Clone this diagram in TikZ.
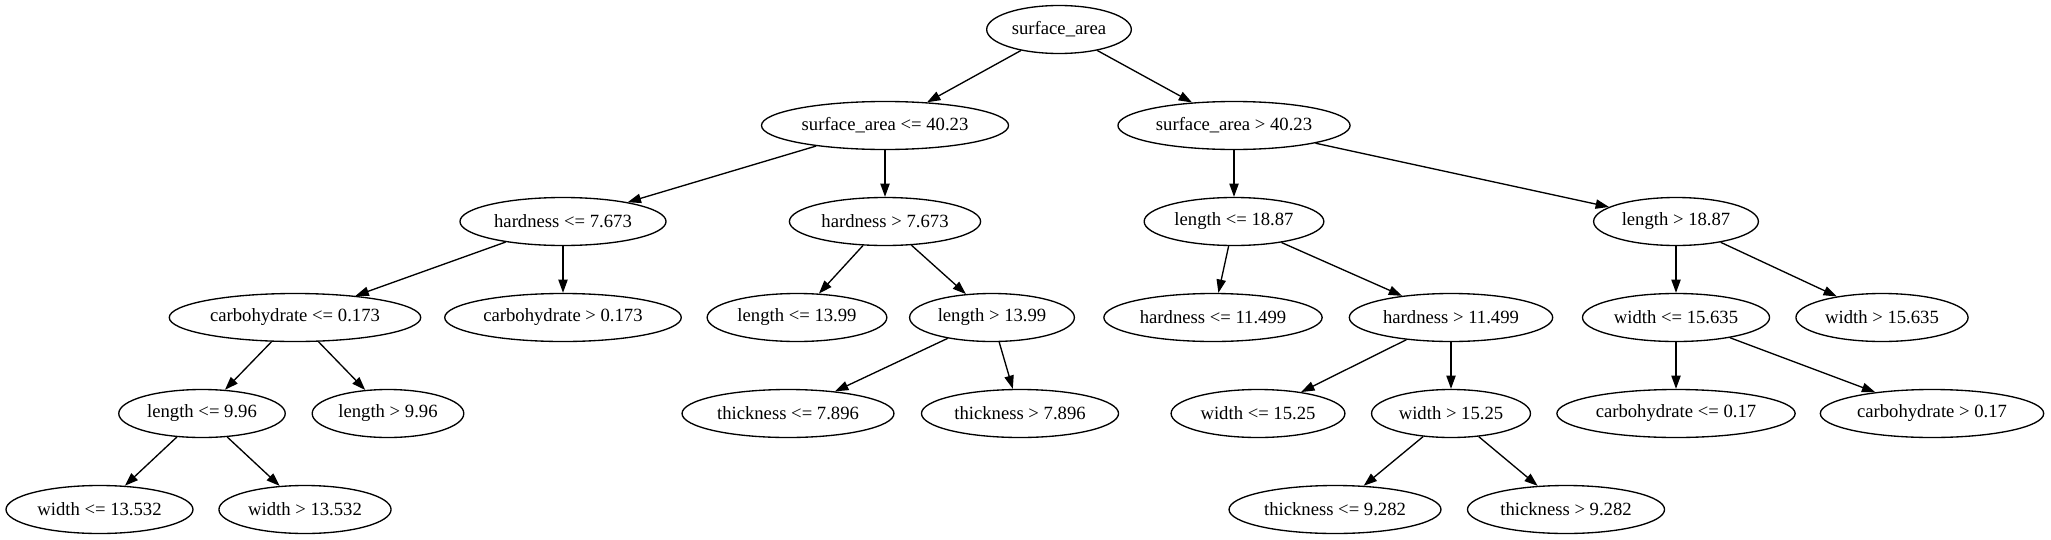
\documentclass[tikz,border=0pt]{standalone}
\usepackage{fontspec}
\setmainfont{Liberation Serif}
\usetikzlibrary{shapes.geometric, arrows.meta}

\begin{document}
\begin{tikzpicture}[x=0.75pt, y=-0.75pt,
    split/.style={ellipse, draw, line width=1pt, minimum height=36pt, inner xsep=3pt, inner ysep=0pt, font=\fontsize{14}{16}\selectfont},
    edge/.style={line width=1pt, -{Triangle[length=10pt, width=7pt]}}
  ]
  \useasboundingbox (0,0) rectangle (2051,539);

  % rank 0
  \node[split] (root) at (1059,29.5) {surface\_area};
  % rank 1
  \node[split] (A) at (885,125.5) {surface\_area <= 40.23};
  \node[split] (B) at (1234,125.5) {surface\_area > 40.23};
  % rank 2
  \node[split] (A1) at (563,221.5) {hardness <= 7.673};
  \node[split] (A2) at (885,221.5) {hardness > 7.673};
  \node[split] (B1) at (1234,221.5) {length <= 18.87};
  \node[split] (B2) at (1676,221.5) {length > 18.87};
  % rank 3
  \node[split] (A11) at (295,317.5) {carbohydrate <= 0.173};
  \node[split] (A12) at (563,317.5) {carbohydrate > 0.173};
  \node[split] (A21) at (797,317.5) {length <= 13.99};
  \node[split] (A22) at (992,317.5) {length > 13.99};
  \node[split] (B11) at (1213,317.5) {hardness <= 11.499};
  \node[split] (B12) at (1451,317.5) {hardness > 11.499};
  \node[split] (B21) at (1676,317.5) {width <= 15.635};
  \node[split] (B22) at (1882,317.5) {width > 15.635};
  % rank 4
  \node[split] (A111) at (202,413.5) {length <= 9.96};
  \node[split] (A112) at (388,413.5) {length > 9.96};
  \node[split] (A221) at (788,413.5) {thickness <= 7.896};
  \node[split] (A222) at (1020,413.5) {thickness > 7.896};
  \node[split] (B121) at (1258,413.5) {width <= 15.25};
  \node[split] (B122) at (1451,413.5) {width > 15.25};
  \node[split] (B211) at (1676,413.5) {carbohydrate <= 0.17};
  \node[split] (B212) at (1932,413.5) {carbohydrate > 0.17};
  % rank 5
  \node[split] (A1111) at (99.5,509.5) {width <= 13.532};
  \node[split] (A1112) at (305,509.5) {width > 13.532};
  \node[split] (B1221) at (1335,509.5) {thickness <= 9.282};
  \node[split] (B1222) at (1566,509.5) {thickness > 9.282};

  \foreach \p/\c in {root/A, root/B, A/A1, A/A2, B/B1, B/B2,
      A1/A11, A1/A12, A2/A21, A2/A22, B1/B11, B1/B12, B2/B21, B2/B22,
      A11/A111, A11/A112, A22/A221, A22/A222, B12/B121, B12/B122, B21/B211, B21/B212,
      A111/A1111, A111/A1112, B122/B1221, B122/B1222} {
    \draw[edge] (\p) -- (\c);
  }
\end{tikzpicture}
\end{document}
